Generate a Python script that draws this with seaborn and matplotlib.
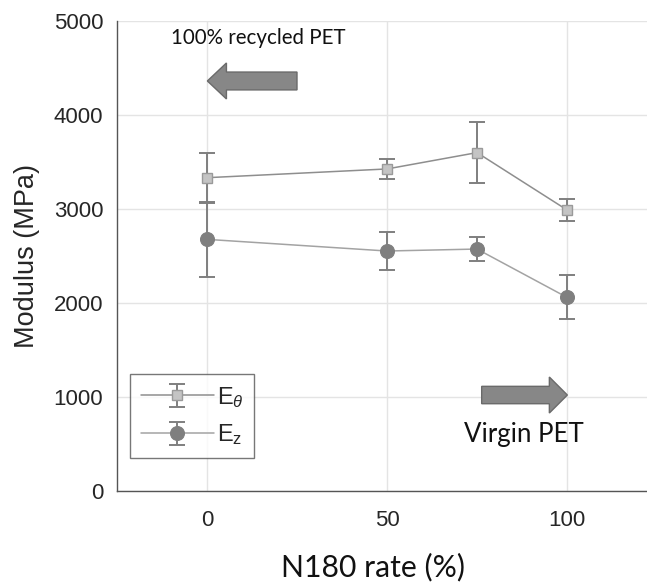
import matplotlib
matplotlib.use("Agg")
import matplotlib.pyplot as plt
from matplotlib.patches import FancyArrow
from matplotlib.legend_handler import HandlerTuple
import seaborn as sns
import pandas as pd

# N180 content of the blend (%)
n180_rate = [0, 50, 75, 100]

# Hoop modulus E_theta and axial modulus E_z (MPa) with standard deviations
e_theta = [3333, 3426, 3600, 2990]
e_theta_sd = [265, 106, 328, 113]
e_z = [2677, 2553, 2574, 2060]
e_z_sd = [397, 200, 128, 235]

sns.set_style("white")
plt.rcParams["font.family"] = ["Liberation Sans", "DejaVu Sans"]
plt.rcParams["mathtext.fontset"] = "custom"
plt.rcParams["mathtext.rm"] = "Liberation Sans"
plt.rcParams["mathtext.it"] = "Liberation Sans:italic"

fig = plt.figure(figsize=(6.47, 5.87), dpi=100)
ax = fig.add_axes([117 / 647, 96 / 587, 540 / 647, 470 / 587])

df = pd.DataFrame({"rate": n180_rate, "Et": e_theta, "Ez": e_z})

bar_col = "#7f7f7f"
# error bars
eb_t = ax.errorbar(n180_rate, e_theta, yerr=e_theta_sd, fmt="none",
                   ecolor=bar_col, elinewidth=1.4, capsize=5.5, capthick=1.4, zorder=2)
eb_z = ax.errorbar(n180_rate, e_z, yerr=e_z_sd, fmt="none",
                   ecolor=bar_col, elinewidth=1.4, capsize=5.5, capthick=1.4, zorder=2)

# lines with markers
sns.lineplot(data=df, x="rate", y="Et", ax=ax, color="#8e8e8e", lw=1.1,
             marker="s", markersize=7, markerfacecolor="#c4c4c4",
             markeredgecolor="#9a9a9a", markeredgewidth=1.0, zorder=3)
sns.lineplot(data=df, x="rate", y="Ez", ax=ax, color="#a3a3a3", lw=1.1,
             marker="o", markersize=10, markerfacecolor="#7f7f7f",
             markeredgecolor="#7f7f7f", markeredgewidth=0.8, zorder=3)
line_t, line_z = ax.get_lines()[-2], ax.get_lines()[-1]

ax.set_xlim(-25, 125)
ax.set_ylim(0, 5000)
ax.set_xticks([0, 50, 100])
ax.set_yticks([0, 1000, 2000, 3000, 4000, 5000])
ax.grid(True, color="#e4e4e4", lw=1.0)
ax.set_axisbelow(True)
for s in ["top", "right"]:
    ax.spines[s].set_visible(False)
for s in ["left", "bottom"]:
    ax.spines[s].set_color("#555555")
    ax.spines[s].set_linewidth(1.0)
ax.tick_params(direction="in", length=4, width=0.8, color="#555555",
               labelsize=16, labelcolor="#262626", pad=10)
ax.tick_params(axis="x", pad=14)
ax.set_xlabel("")
ax.set_ylabel("Modulus (MPa)", fontsize=19.5, color="#262626", labelpad=10)

fig.text(373 / 647, 1 - 567 / 587, "N180 rate (%)", fontsize=21.7,
         family=["Lato", "DejaVu Sans"], color="#111111",
         ha="center", va="center")

# arrows pointing towards the pure recycled and pure virgin ends
ax.add_patch(FancyArrow(25, 4362, -19.6, 0, width=190, head_width=383,
                        head_length=5.3, length_includes_head=False,
                        facecolor="#878787", edgecolor="#6a6a6a", lw=1.0, zorder=4))
ax.add_patch(FancyArrow(76.3, 1021, 18.8, 0, width=185, head_width=383,
                        head_length=5.0, length_includes_head=False,
                        facecolor="#878787", edgecolor="#6a6a6a", lw=1.0, zorder=4))

ax.text(-10, 4815, "100% recycled PET", fontsize=14.8,
        family=["Lato", "DejaVu Sans"], color="#111111", va="center", ha="left")
ax.text(71.5, 596, "Virgin PET", fontsize=18.6,
        family=["Lato", "DejaVu Sans"], color="#111111", va="center", ha="left")

leg = ax.legend([(eb_t, line_t), (eb_z, line_z)],
                [r"E$_{\mathit{\theta}}$", r"E$_\mathregular{z}$"],
                handler_map={tuple: HandlerTuple(ndivide=1)},
                loc="lower left", bbox_to_anchor=(0.024, 0.07),
                fontsize=17, frameon=True, fancybox=False, borderaxespad=0,
                handlelength=3.1, handletextpad=0.12, labelspacing=0.55,
                borderpad=0.45)
leg.get_frame().set_edgecolor("#555555")
leg.get_frame().set_linewidth(1.0)

fig.savefig("out.png", dpi=100)
